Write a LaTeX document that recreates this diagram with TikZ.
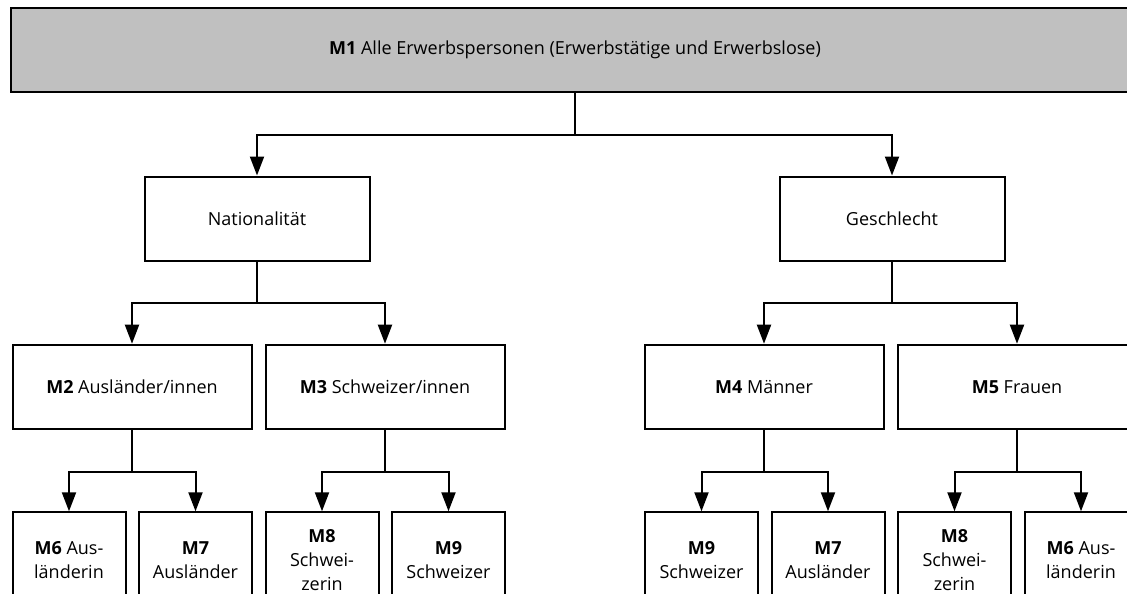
\documentclass[tikz,border=0pt]{standalone}
\usepackage{fontspec}
\setmainfont{Open Sans}
\usetikzlibrary{arrows.meta}
\definecolor{kopfgrau}{RGB}{192,192,192}
\tikzset{kasten/.style={draw, line width=2pt, align=center, inner sep=2pt, font=\fontsize{18pt}{24pt}\selectfont},
  kopf/.style={kasten, fill=kopfgrau, minimum width=1128pt, minimum height=84pt},
  merkmal/.style={kasten, minimum width=225pt, minimum height=84pt},
  gruppe/.style={kasten, minimum width=239pt, minimum height=84pt},
  blatt/.style={kasten, minimum width=113pt, minimum height=96pt},
  pfeil/.style={line width=2pt, -{Triangle[width=14pt,length=19pt]}}}

\begin{document}
\begin{tikzpicture}[x=1pt, y=-1pt]
  \clip (0,0) rectangle (1127,594);
  \node[kopf] (m1) at (575,50) {\textbf{M1} Alle Erwerbspersonen (Erwerbstätige und Erwerbslose)};
  % Merkmale
  \node[merkmal] (nat) at (257,218.5) {Nationalität};
  \node[merkmal] (ges) at (892,218.5) {Geschlecht};
  % Gruppen
  \node[gruppe] (m2) at (132,386.7) {\textbf{M2} Ausländer/innen};
  \node[gruppe] (m3) at (385,386.7) {\textbf{M3} Schweizer/innen};
  \node[gruppe] (m4) at (764,386.7) {\textbf{M4} Männer};
  \node[gruppe] (m5) at (1017,386.7) {\textbf{M5} Frauen};
  % Untergruppen
  \node[blatt] (m6a) at (69,560.3) {\textbf{M6} Aus-\\länderin};
  \node[blatt] (m7a) at (195.5,560.3) {\textbf{M7}\\Ausländer};
  \node[blatt] (m8a) at (322,560.3) {\textbf{M8}\\Schwei-\\zerin};
  \node[blatt] (m9a) at (448.5,560.3) {\textbf{M9}\\Schweizer};
  \node[blatt] (m9b) at (701.5,560.3) {\textbf{M9}\\Schweizer};
  \node[blatt] (m7b) at (828,560.3) {\textbf{M7}\\Ausländer};
  \node[blatt] (m8b) at (954.5,560.3) {\textbf{M8}\\Schwei-\\zerin};
  \node[blatt] (m6b) at (1081,560.3) {\textbf{M6} Aus-\\länderin};
  % Pfeile
  \draw[pfeil] (m1.south) -- ++(0,42) -| (nat.north);
  \draw[pfeil] (m1.south) -- ++(0,42) -| (ges.north);
  \draw[pfeil] (nat.south) -- ++(0,41.5) -| (m2.north);
  \draw[pfeil] (nat.south) -- ++(0,41.5) -| (m3.north);
  \draw[pfeil] (ges.south) -- ++(0,41.5) -| (m4.north);
  \draw[pfeil] (ges.south) -- ++(0,41.5) -| (m5.north);
  \draw[pfeil] (m2.south) -- ++(0,42.3) -| (m6a.north);
  \draw[pfeil] (m2.south) -- ++(0,42.3) -| (m7a.north);
  \draw[pfeil] (m3.south) -- ++(0,42.3) -| (m8a.north);
  \draw[pfeil] (m3.south) -- ++(0,42.3) -| (m9a.north);
  \draw[pfeil] (m4.south) -- ++(0,42.3) -| (m9b.north);
  \draw[pfeil] (m4.south) -- ++(0,42.3) -| (m7b.north);
  \draw[pfeil] (m5.south) -- ++(0,42.3) -| (m8b.north);
  \draw[pfeil] (m5.south) -- ++(0,42.3) -| (m6b.north);
\end{tikzpicture}
\end{document}
